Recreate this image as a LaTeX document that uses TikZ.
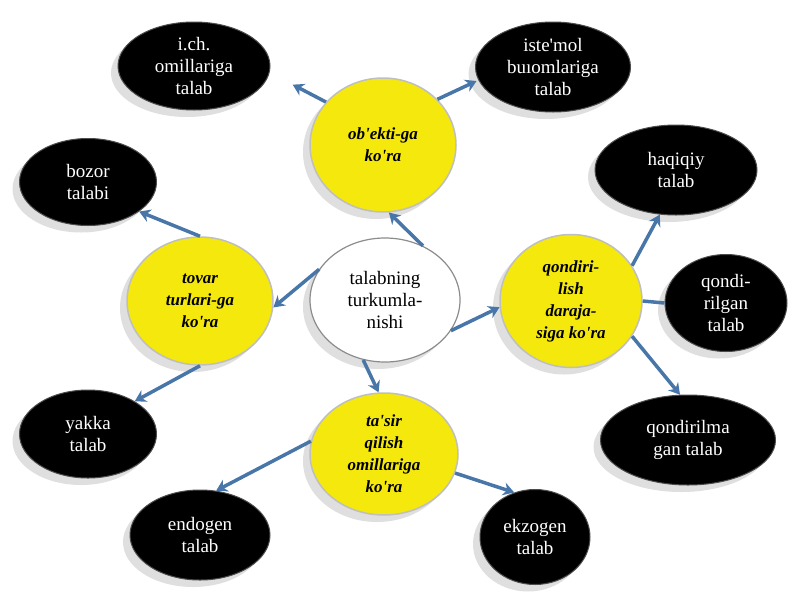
\documentclass[tikz,border=0pt]{standalone}
\usepackage{fontspec}
\setmainfont{Liberation Serif}
\usetikzlibrary{shapes.geometric,arrows.meta,shadows}
\newcommand\aps{\textquotesingle}
\definecolor{steel}{RGB}{72,118,168}
\begin{document}
\begin{tikzpicture}[x=1pt,y=-1pt,
 base/.style={ellipse,inner sep=0pt,align=center,font=\fontsize{19}{22}\selectfont,drop shadow={shadow xshift=-7pt,shadow yshift=-7pt,fill=black!25,opacity=0.5}},
 blk/.style={base,fill=black,draw=black!70,line width=1pt,text=white},
 yel/.style={base,fill=yellow!95!black,draw=black!25,line width=1.5pt,font=\fontsize{17}{22}\selectfont\bfseries\itshape},
 wht/.style={base,fill=white,draw=black!45,line width=1.2pt},
 arr/.style={draw=steel,line width=3.5pt,-{Stealth[length=11pt,width=13pt]}},
 ln/.style={draw=steel,line width=3.5pt}]
\useasboundingbox (0,0) rectangle (800,600);
\node[wht,minimum width=150,minimum height=124] (c) at (385,300) {talabning\\turkumla-\\nishi};
\node[yel,minimum width=146,minimum height=134] (ob) at (383,145) {ob\aps ekti-ga\\ko\aps ra};
\node[yel,minimum width=146,minimum height=128] (tv) at (200,301) {tovar\\turlari-ga\\ko\aps ra};
\node[yel,minimum width=142,minimum height=133] (qd) at (571,301) {qondiri-\\lish\\daraja-\\siga ko\aps ra};
\node[yel,minimum width=148,minimum height=122] (ts) at (384,454) {ta\aps sir\\qilish\\omillariga\\ko\aps ra};
\node[blk,minimum width=152,minimum height=88] (ic) at (194,66) {i.ch.\\omillariga\\talab};
\node[blk,minimum width=155,minimum height=90] (is) at (553,67) {iste\aps mol\\buıomlariga\\talab};
\node[blk,minimum width=137,minimum height=87] (bz) at (88,182) {bozor\\talabi};
\node[blk,minimum width=162,minimum height=90] (hq) at (676,170) {haqiqiy\\talab};
\node[blk,minimum width=122,minimum height=97] (qr) at (726,303) {qondi-\\rilgan\\talab};
\node[blk,minimum width=137,minimum height=88] (yk) at (88,434) {yakka\\talab};
\node[blk,minimum width=175,minimum height=90] (qm) at (688,440) {qondirilma\\gan talab};
\node[blk,minimum width=140,minimum height=90] (en) at (200,535) {endogen\\talab};
\node[blk,minimum width=110,minimum height=95] (ek) at (535,537) {ekzogen\\talab};
\draw[arr] (c.55) -- (ob.-85);
\draw[arr] (c.155) -- (tv.-5);
\draw[arr] (c.-25) -- (qd.185);
\draw[arr] (c.-110) -- (ts.95);
\draw[arr,shorten >=26pt] (ob.143) -- (ic.-5);
\draw[arr,shorten >=2pt] (ob.40) -- (is.190);
\draw[arr] (tv.90) -- (bz.-30);
\draw[arr] (tv.-90) -- (yk.35);
\draw[arr] (qd.30) -- (hq.-110);
\draw[ln] (qd.0) -- (qr.180);
\draw[arr] (qd.-30) -- (qm.100);
\draw[arr] (ts.170) -- (en.70);
\draw[arr] (ts.-15) -- (ek.115);
\end{tikzpicture}
\end{document}
